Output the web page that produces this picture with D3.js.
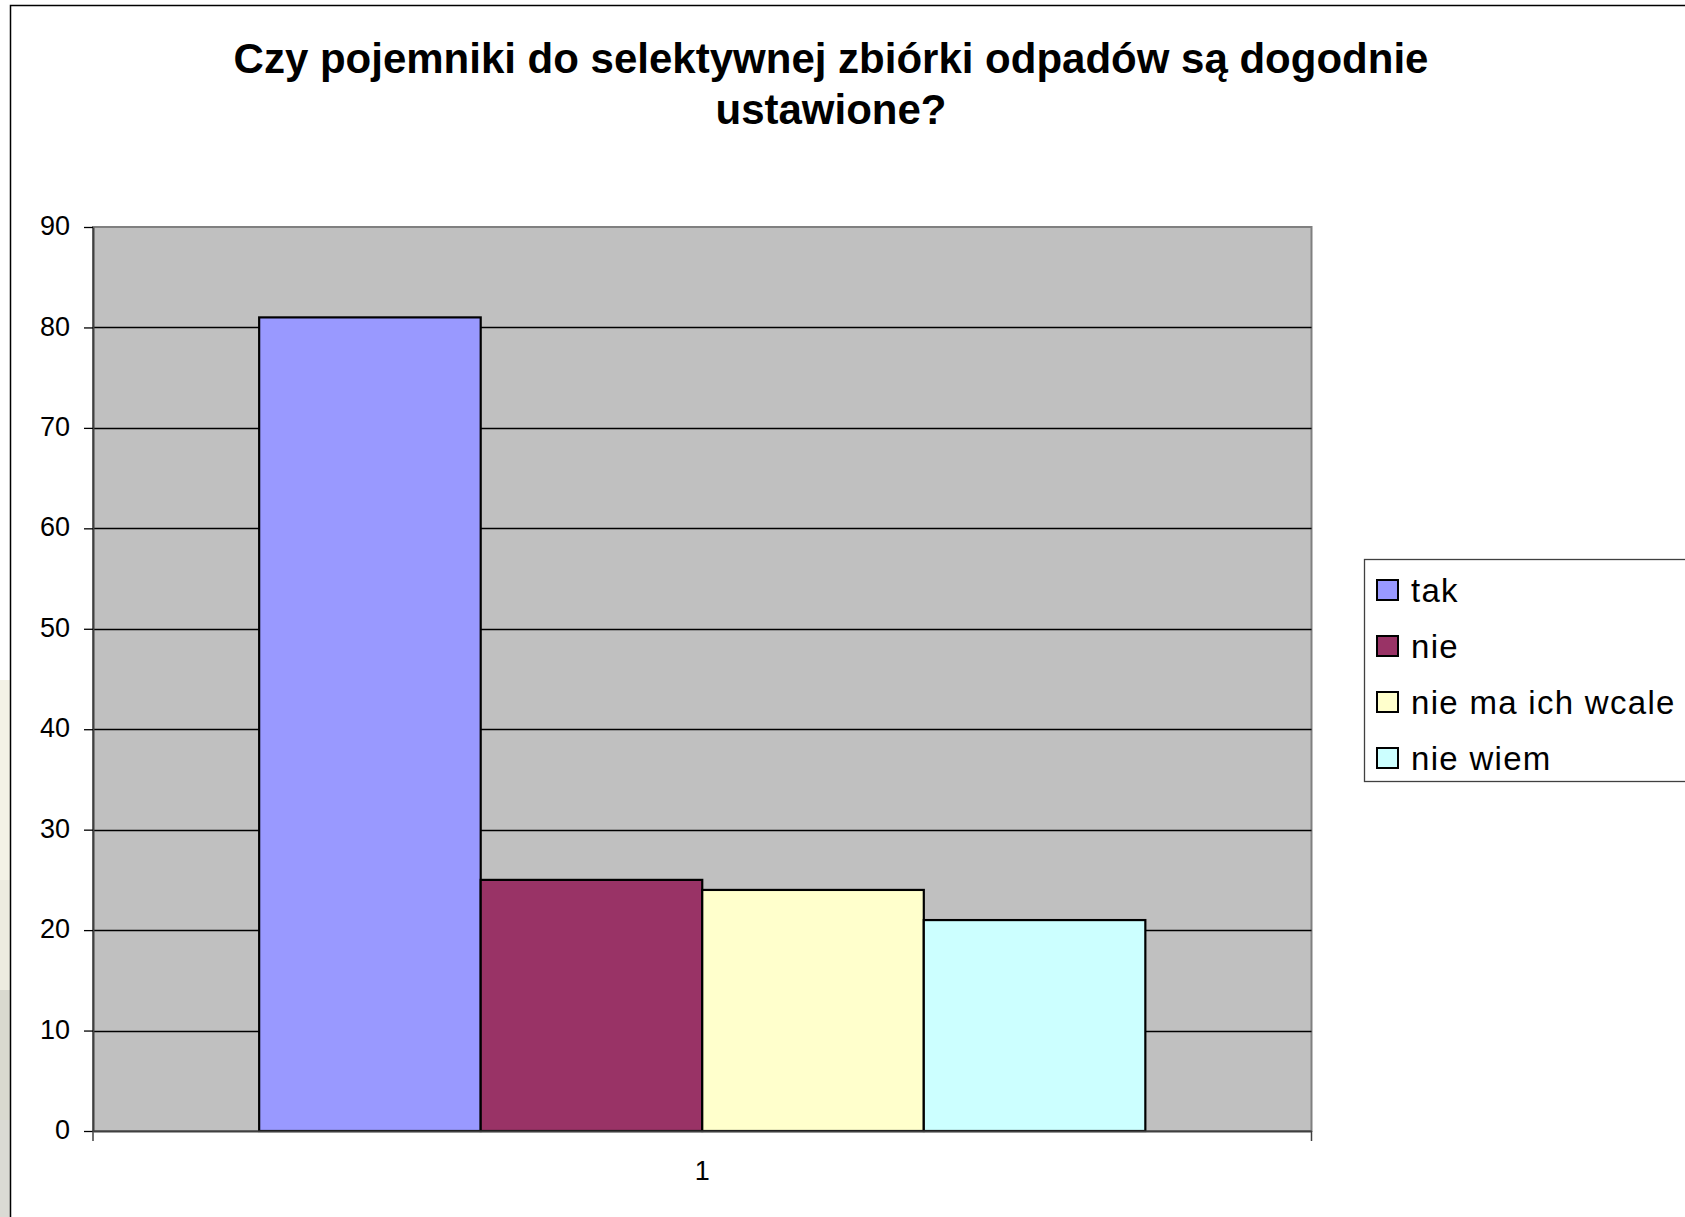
<!DOCTYPE html>
<html>
<head>
<meta charset="utf-8">
<script src="https://cdn.jsdelivr.net/npm/d3@7/dist/d3.min.js"></script>
<style>
  html, body { margin: 0; padding: 0; background: #fff; overflow: hidden; }
  svg { display: block; font-family: "Liberation Sans", Arial, sans-serif; }
</style>
</head>
<body>
<svg id="chart" width="1685" height="1217"></svg>
<script>
const titleLines = ["Czy pojemniki do selektywnej zbiórki odpadów są dogodnie", "ustawione?"];
const categories = ["1"];
const seriesNames = ["tak", "nie", "nie ma ich wcale", "nie wiem"];
const seriesValues = [81, 25, 24, 21];
const seriesColors = ["#9999FF", "#993366", "#FFFFCC", "#CCFFFF"];
const yTicks = [0, 10, 20, 30, 40, 50, 60, 70, 80, 90];

const svg = d3.select("#chart");
const W = 1685, H = 1217;

// slide background strip on the left
const strip = svg.append("g");
strip.append("rect").attr("x", 0).attr("y", 0).attr("width", 10).attr("height", H).attr("fill", "#ffffff");
strip.append("rect").attr("x", 0).attr("y", 680).attr("width", 10).attr("height", 200).attr("fill", "#F3F2E6");
strip.append("rect").attr("x", 0).attr("y", 880).attr("width", 10).attr("height", 110).attr("fill", "#EDECE0");
strip.append("rect").attr("x", 0).attr("y", 990).attr("width", 10).attr("height", 130).attr("fill", "#D9D9CF");
strip.append("rect").attr("x", 0).attr("y", 1120).attr("width", 10).attr("height", 97).attr("fill", "#DADAD4");

// chart outer border (extends beyond the visible page)
svg.append("rect")
  .attr("x", 10.5).attr("y", 5.5).attr("width", 1800).attr("height", 1400)
  .attr("fill", "#fff").attr("stroke", "#000").attr("stroke-width", 1.5);

// title
const title = svg.append("text")
  .attr("text-anchor", "middle")
  .attr("font-weight", "bold")
  .attr("font-size", 42)
  .attr("fill", "#000");
titleLines.forEach((t, i) => {
  title.append("tspan").attr("x", 831).attr("y", 73 + i * 51).text(t);
});

// plot area
const plot = { left: 93, right: 1311.5, top: 227, bottom: 1131 };

const y = d3.scaleLinear().domain([0, 90]).range([plot.bottom, plot.top]);
const x0 = d3.scaleBand().domain(categories).range([plot.left, plot.right])
  .paddingInner(0).paddingOuter(0.1875);
const x1 = d3.scaleBand().domain(seriesNames).range([0, x0.bandwidth()]).padding(0);

svg.append("rect")
  .attr("x", plot.left).attr("y", plot.top)
  .attr("width", plot.right - plot.left).attr("height", plot.bottom - plot.top)
  .attr("fill", "#C0C0C0").attr("stroke", "#808080").attr("stroke-width", 2);

// gridlines
svg.append("g")
  .selectAll("line")
  .data(yTicks.filter(d => d > 0 && d < 90))
  .join("line")
  .attr("x1", plot.left).attr("x2", plot.right)
  .attr("y1", d => Math.round(y(d)) + 0.5).attr("y2", d => Math.round(y(d)) + 0.5)
  .attr("stroke", "#000").attr("stroke-width", 1.3);

// bars
svg.append("g")
  .selectAll("rect")
  .data(seriesNames.map((s, i) => ({ cat: categories[0], s, v: seriesValues[i], c: seriesColors[i] })))
  .join("rect")
  .attr("x", d => x0(d.cat) + x1(d.s))
  .attr("y", d => y(d.v))
  .attr("width", x1.bandwidth())
  .attr("height", d => y(0) - y(d.v))
  .attr("fill", d => d.c)
  .attr("stroke", "#000").attr("stroke-width", 2.2);

// y axis
const yAxis = d3.axisLeft(y).tickValues(yTicks).tickSize(9).tickPadding(14).tickSizeOuter(0);
const gy = svg.append("g").attr("transform", `translate(${plot.left},0)`).call(yAxis);
gy.select(".domain").attr("stroke", "#404040").attr("stroke-width", 2);
gy.selectAll(".tick line").attr("stroke", "#000").attr("stroke-width", 1.3);
gy.selectAll(".tick text").attr("font-size", 27).attr("fill", "#000")
  .attr("font-family", "'Liberation Sans', Arial, sans-serif").attr("dy", "0.28em");

// x axis
const xAxis = d3.axisBottom(x0).tickSize(0).tickPadding(30);
const gx = svg.append("g").attr("transform", `translate(0,${plot.bottom})`).call(xAxis);
gx.select(".domain").attr("stroke", "#404040").attr("stroke-width", 2);
gx.selectAll(".tick text").attr("font-size", 27).attr("fill", "#000")
  .attr("font-family", "'Liberation Sans', Arial, sans-serif");
// outer tick marks at both ends of the category axis
gx.selectAll(".edge").data(x0.range()).join("line")
  .attr("class", "edge")
  .attr("x1", d => d).attr("x2", d => d).attr("y1", 0).attr("y2", 10)
  .attr("stroke", "#404040").attr("stroke-width", 1.5);

// legend
const legend = svg.append("g");
legend.append("rect")
  .attr("x", 1364.5).attr("y", 559.5).attr("width", 360).attr("height", 222)
  .attr("fill", "#fff").attr("stroke", "#404040").attr("stroke-width", 1.3);
const items = legend.selectAll("g.item")
  .data(seriesNames.map((s, i) => ({ s, c: seriesColors[i], i })))
  .join("g").attr("class", "item")
  .attr("transform", d => `translate(1377, ${580 + d.i * 56})`);
items.append("rect").attr("width", 21).attr("height", 20)
  .attr("fill", d => d.c).attr("stroke", "#000").attr("stroke-width", 2);
items.append("text").attr("x", 34).attr("y", 10).attr("dy", "0.36em")
  .attr("font-size", 33).attr("letter-spacing", 1.3).attr("fill", "#000").text(d => d.s);
</script>
</body>
</html>
